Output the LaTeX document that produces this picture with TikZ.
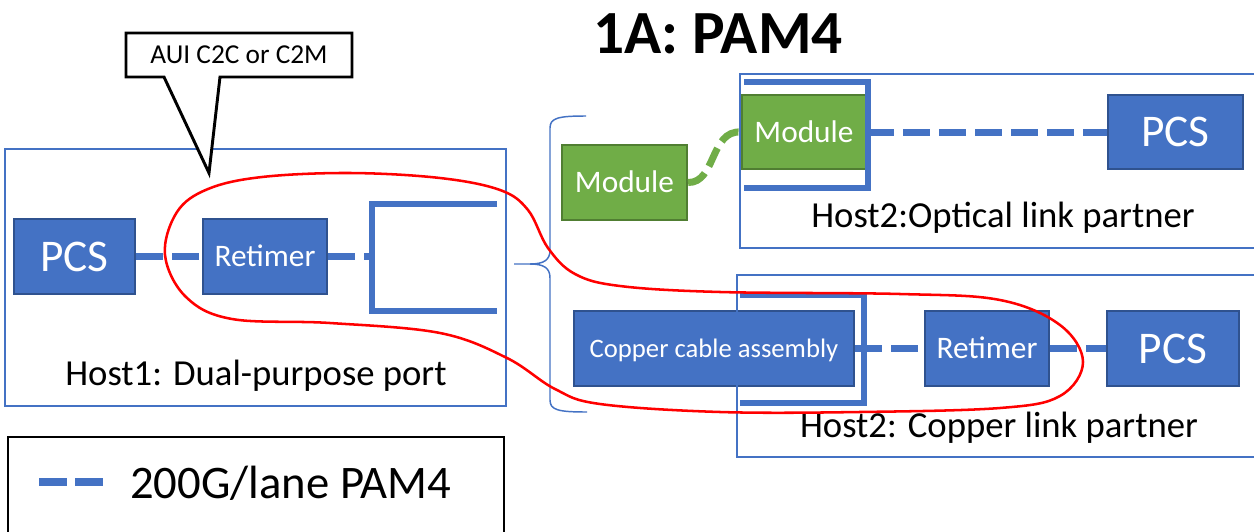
\documentclass[tikz,border=0pt]{standalone}
\usepackage{fontspec}
\setmainfont{Carlito}
\usetikzlibrary{fit}
\definecolor{bluefill}{HTML}{4472C4}
\definecolor{blueedge}{HTML}{2F528F}
\definecolor{greenfill}{HTML}{70AD47}
\definecolor{greenedge}{HTML}{507E32}
\definecolor{loopred}{HTML}{FF0000}
\tikzset{
  box/.style={inner sep=0pt, line width=1.6pt, text=white, text depth=0pt},
  pxsize/.style 2 args={minimum width=#1*0.75pt, minimum height=#2*0.75pt},
  bluebox/.style={box, draw=blueedge, fill=bluefill},
  greenbox/.style={box, draw=greenedge, fill=greenfill},
  hostbox/.style={draw=bluefill, line width=1.1pt, inner sep=0pt},
  cage/.style={draw=bluefill, line width=3.8pt},
  lane/.style={draw=bluefill, line width=5.25pt, dash pattern=on 20.25pt off 6.75pt},
  optic/.style={draw=greenfill, line width=5.25pt, dash pattern=on 15pt off 6pt},
  bigtxt/.style={font=\fontsize{34}{40}\selectfont, text height=21.9pt},
  midtxt/.style={font=\fontsize{23.5}{28}\selectfont, text height=15.1pt},
  smalltxt/.style={font=\fontsize{20}{24}\selectfont, text height=12.9pt},
  hosttxt/.style={font=\fontsize{27.5}{32}\selectfont, anchor=base, inner sep=0pt},
}
\begin{document}
\begin{tikzpicture}[x=0.75pt, y=-0.75pt]
\useasboundingbox (0,0) rectangle (1254,532);
\fill[white] (0,0) rectangle (1254,532);

% title
\node[anchor=base, inner sep=0pt, font=\bfseries\fontsize{46}{52}\selectfont] (title) at (718,53) {1A: PAM4};

% ---------- Host 1 ----------
\node[fit={(5,149)(506,406)}, hostbox] (hostA) {};
\node[hosttxt] (hostAlbl) at (256,385) {Host1: Dual-purpose port};
\node[bluebox, bigtxt, pxsize={121}{75}] (pcsA) at (74.5,256.5) {PCS};
\node[bluebox, midtxt, pxsize={124}{75}] (retA) at (265,256.5) {Retimer};
\draw[cage] (497,204) -- (372,204) -- (372,311) -- (497,311);
\coordinate (portA) at (372,256.5);
\draw[lane] (pcsA.east) -- (retA.west);
\draw[lane] (retA.east) -- (portA);

% callout
\draw[line width=2.2pt, fill=white, line join=miter]
  (126,33) -- (352,33) -- (352,77) -- (220,77) -- (209,173) -- (164,77) -- (126,77) -- cycle;
\node[font=\fontsize{20.5}{24}\selectfont, text height=13.2pt, text depth=0pt, inner sep=0pt] (aui) at (239,55) {AUI C2C or C2M};

% brace between the two link partners
\draw[draw=bluefill, line width=1.1pt]
  (586,116) .. controls (558,116) and (550,118) .. (550,128) -- (550,250)
  .. controls (550,260) and (544,264) .. (530,264) -- (514,264);
\draw[draw=bluefill, line width=1.1pt]
  (530,264) .. controls (544,264) and (550,268) .. (550,278) -- (550,400)
  .. controls (550,410) and (558,412) .. (587,412);

% ---------- Host 2 : optical ----------
\node[greenbox, midtxt, pxsize={125}{75}] (modA) at (624.5,182.5) {Module};
\node[greenbox, midtxt, pxsize={124}{74}] (modB) at (804,132) {Module};
\draw[cage] (744,82) -- (868,82) -- (868,188) -- (744,188);
\node[bluebox, bigtxt, pxsize={135}{74}] (pcsB) at (1175.5,132) {PCS};
\draw[lane] (modB.east) -- (pcsB.west);
\draw[optic] (modA.east) .. controls (716,183) and (710,130) .. (modB.west);
\node[fit={(740,74)(1262,248)}, hostbox] (hostB) {};
\node[hosttxt] (hostBlbl) at (1003,227) {Host2:Optical link partner};

% ---------- Host 2 : copper ----------
\node[bluebox, smalltxt, pxsize={280}{75}] (cca) at (714,348.5) {Copper cable assembly};
\draw[cage] (740,295) -- (864,295) -- (864,403) -- (740,403);
\node[bluebox, midtxt, pxsize={124}{75}] (retB) at (987,348.5) {Retimer};
\node[bluebox, bigtxt, pxsize={132}{75}] (pcsC) at (1173,348.5) {PCS};
\draw[lane] (cca.east) -- (retB.west);
\draw[lane] (retB.east) -- (pcsC.west);
\node[fit={(737,275)(1262,457)}, hostbox] (hostC) {};
\node[hosttxt] (hostClbl) at (999,437) {Host2: Copper link partner};

% AUI reach loop
\draw[loopred, line width=1.9pt] plot[smooth cycle, tension=0.6] coordinates {
  (165,255) (177,212) (208,189) (262,177) (350,173) (440,178) (500,190)
  (528,210) (548,248) (575,274) (620,286) (720,292) (900,294) (1000,300)
  (1060,325) (1083,362) (1060,396) (1000,408) (860,412) (720,412)
  (600,404) (555,389) (507,358) (440,333) (330,323) (232,319) (186,297)};

% legend
\node[fit={(8,437)(504,545)}, draw=black, line width=1pt, inner sep=0pt] (legend) {};
\coordinate (legA) at (39,482);
\coordinate (legB) at (104,482);
\draw[lane, line width=6pt, dash pattern=on 21pt off 6pt] (legA) -- (legB);
\node[anchor=base west, inner sep=0pt, font=\fontsize{35}{40}\selectfont] (legtxt) at (130,498) {200G/lane PAM4};
\end{tikzpicture}
\end{document}
